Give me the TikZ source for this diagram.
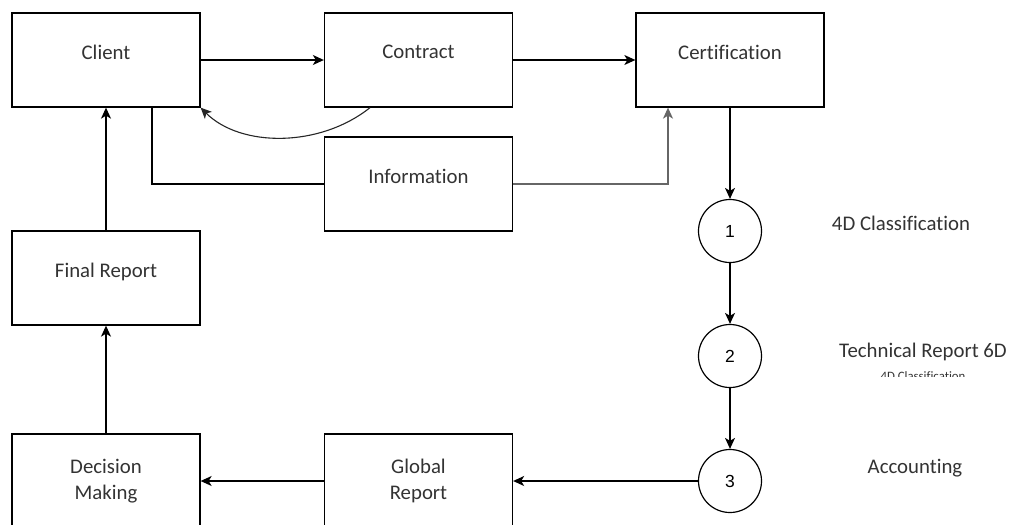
\documentclass[tikz,border=0pt]{standalone}
\usepackage{fontspec}
\setmainfont{Carlito}[Ligatures=NoCommon]
\newfontfamily\numfont{Liberation Sans}
\usetikzlibrary{arrows.meta}
\begin{document}
\begin{tikzpicture}[x=1pt,y=-1pt,
  base/.style={draw, line width=1.3pt, minimum width=188pt, minimum height=94pt, inner sep=0pt,
    text=black!80, font=\fontsize{20.8}{26}\selectfont},
  box/.style={base, text depth=16pt},
  box2/.style={base, align=center},
  circ/.style={draw, circle, line width=1.2pt, minimum size=63pt, inner sep=0pt,
    font=\numfont\fontsize{17.5}{20}\selectfont},
  lab/.style={text=black!80, font=\fontsize{20.8}{24}\selectfont},
  conn/.style={line width=1.3pt},
  arr/.style={conn, -{Stealth[length=11pt,width=10pt,inset=3pt]}}
]
\clip (0,0) rectangle (1013,525);
\fill[white] (0,0) rectangle (1013,525);

\node[box] (client) at (106,60) {Client};
\node[box] (contract) at (418.5,60) {Contract};
\node[box] (cert) at (730,60) {Certification};
\node[box] (info) at (418.5,184) {Information};
\node[box] (final) at (106,278) {Final Report};
\node[box2] (decision) at (106,481) {Decision\\Making};
\node[box2] (global) at (418.5,481) {Global\\Report};

\node[circ] (c1) at (730,231) {1};
\node[circ] (c2) at (730,356) {2};
\node[circ] (c3) at (730,481) {3};

\node[lab] (l1) at (901,223) {4D Classification};
\node[lab] (l2) at (923,352) {Technical Report 6D};
\node[lab] (l3) at (915,468) {Accounting};
\begin{scope}
\clip (820,360) rectangle (1013,376.5);
\node[text=black!80, font=\fontsize{12.8}{14}\selectfont, anchor=base, inner sep=0pt] (l4) at (923,380) {4D Classification};
\end{scope}

\draw[arr] (client.east) -- (contract.west);
\draw[arr] (contract.east) -- (cert.west);
\draw[arr] (cert.south) -- (c1.north);
\draw[arr] (c1.south) -- (c2.north);
\draw[arr] (c2.south) -- (c3.north);
\draw[arr] (c3.west) -- (global.east);
\draw[arr] (global.west) -- (decision.east);
\draw[arr] (decision.north) -- (final.south);
\draw[arr] (final.north) -- (client.south);
\draw[conn] ([xshift=46pt]client.south) |- (info.west);
\draw[arr, draw=black!60] (info.east) -| ([xshift=-62pt]cert.south);
\draw[arr, line width=1.1pt, draw=black!85] ([xshift=-48.5pt]contract.south) .. controls +(-50,40) and +(40,40) .. (client.south east);
\end{tikzpicture}
\end{document}
